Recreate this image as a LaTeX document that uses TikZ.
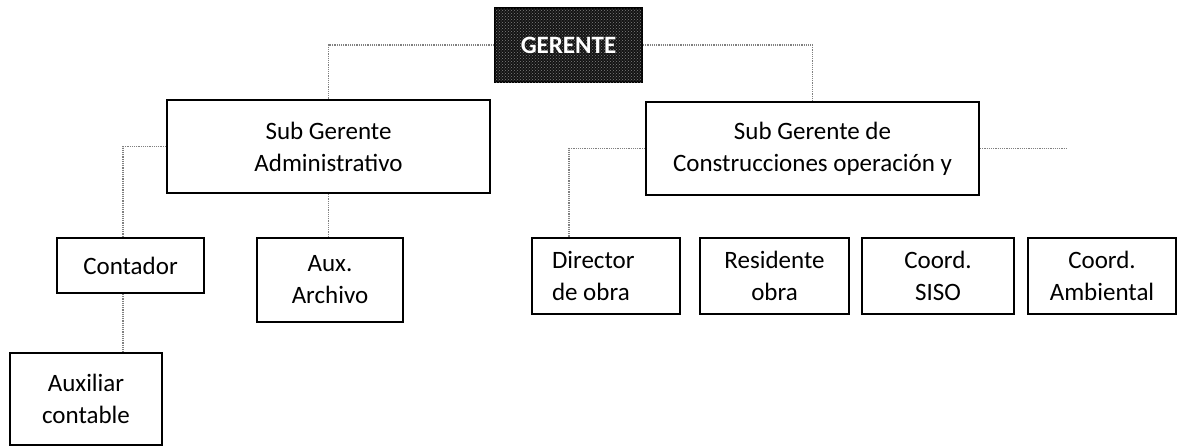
\documentclass[tikz,border=0pt]{standalone}
\usepackage{fontspec}
\setmainfont{Carlito}
\usetikzlibrary{patterns}

\begin{document}
\begin{tikzpicture}[x=1pt, y=-1pt,
    every node/.style={font=\fontsize{25}{32}\selectfont, align=center, inner sep=0pt},
    cargo/.style={draw=black, line width=2pt, fill=white},
    enlace/.style={draw=black!50, line width=1.2pt, densely dotted}]
        \useasboundingbox (0,0) rectangle (1178,447);
        % 节点
        \node[cargo, fill=black!92, postaction={pattern=crosshatch dots, pattern color=black!50},
              text=white, font=\fontsize{25}{32}\selectfont\bfseries,
              minimum width=147pt, minimum height=74pt] (ger) at (568.5,45) {GERENTE};
        \node[cargo, minimum width=323pt, minimum height=93pt] (sadm) at (328.5,146.5) {Sub Gerente\\Administrativo};
        \node[cargo, minimum width=333pt, minimum height=93pt] (scon) at (812.5,148.5) {Sub Gerente de\\Construcciones operación y};
        \node[cargo, minimum width=147pt, minimum height=55pt] (cont) at (130.5,265.5) {Contador};
        \node[cargo, minimum width=146pt, minimum height=84pt] (aux) at (330,280) {Aux.\\Archivo};
        \node[cargo, minimum width=152pt, minimum height=92pt] (auxc) at (86,399) {Auxiliar\\contable};
        \node[cargo, text width=108pt, align=flush left, inner xsep=20pt, minimum height=76pt] (dir) at (606,276) {Director\\de obra};
        \node[cargo, minimum width=149pt, minimum height=76pt] (res) at (774.5,276) {Residente\\obra};
        \node[cargo, minimum width=152pt, minimum height=76pt] (siso) at (938,276) {Coord.\\SISO};
        \node[cargo, minimum width=148pt, minimum height=76pt] (amb) at (1102,276) {Coord.\\Ambiental};
        \coordinate (cola) at (1068,148.5);

        % 连线
        \draw[enlace] (ger.west) -| (sadm.north);
        \draw[enlace] (ger.east) -| (scon.north);
        \draw[enlace] (sadm.west) -| ([xshift=-7.5pt]cont.north);
        \draw[enlace] (sadm.south) -- (sadm.south |- aux.north);
        \draw[enlace] ([xshift=-7.5pt]cont.south) -- ([xshift=-7.5pt]cont.south |- auxc.north);
        \draw[enlace] (scon.west) -| ([xshift=-37pt]dir.north);
        \draw[enlace] (scon.east) -- (cola);
    \end{tikzpicture}
\end{document}
